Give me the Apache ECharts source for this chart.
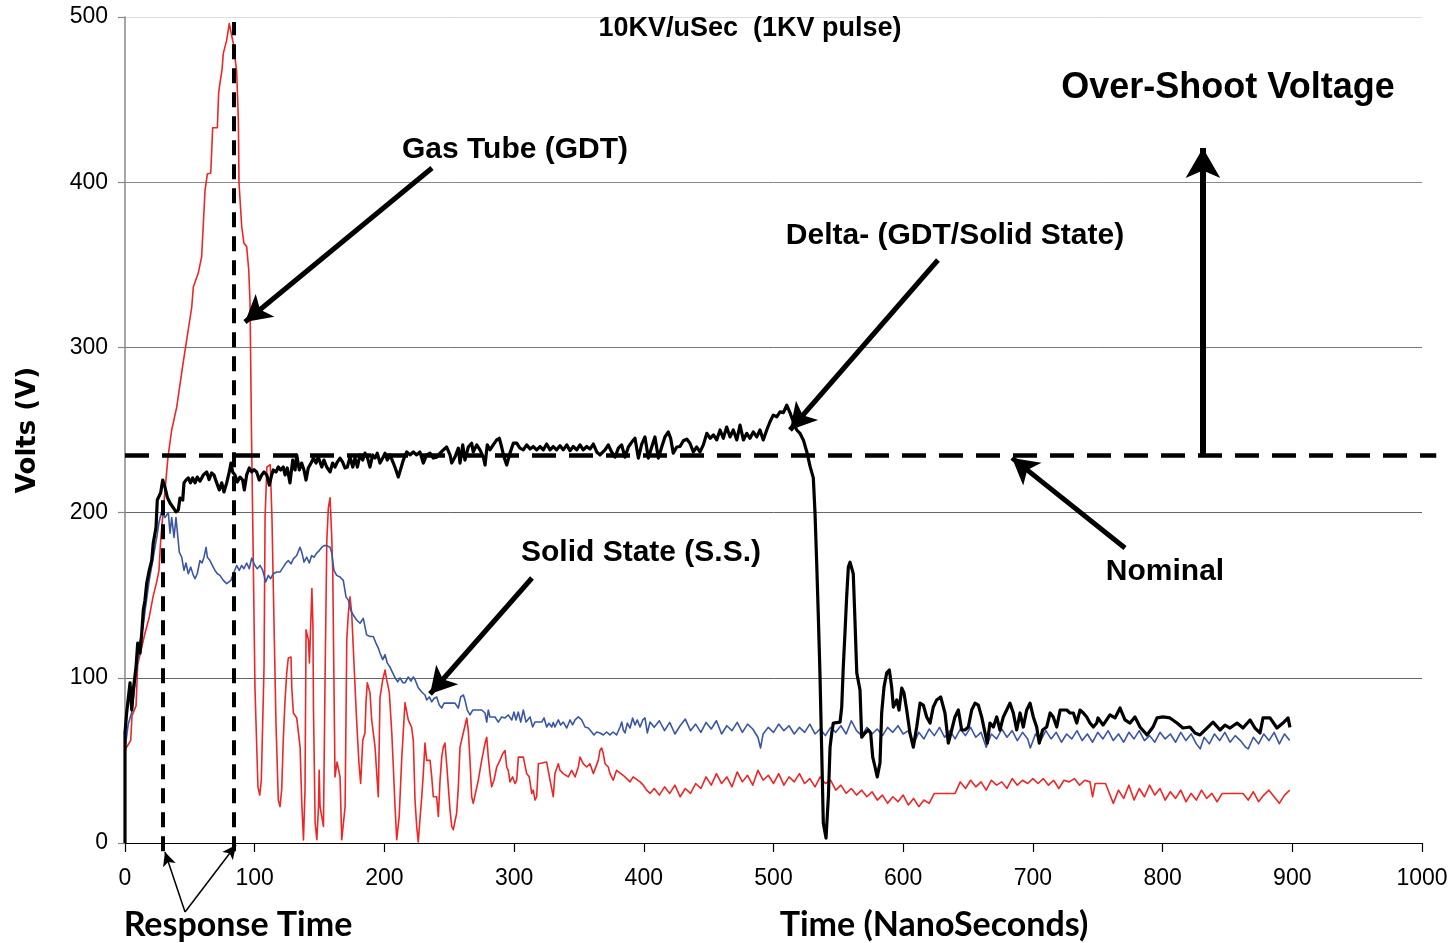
<!DOCTYPE html>
<html>
<head>
<meta charset="utf-8">
<script src="https://cdn.jsdelivr.net/npm/echarts@6/dist/echarts.min.js"></script>
<style>
  html, body { margin: 0; padding: 0; background: #fff; }
  #chart { width: 1451px; height: 943px; }
</style>
</head>
<body>
<div id="chart"></div>
<script>
// axis ticks
var timeTicks = [0, 100, 200, 300, 400, 500, 600, 700, 800, 900, 1000];
var voltTicks = [0, 100, 200, 300, 400, 500];

// Gas Tube (GDT) trace, [ns, V]
var gdtRise = [[0,55],[0.8,57.5],[4.4,62],[5.4,77],[8.5,83],[9.8,108],[15.4,127],[18.5,136],[21.6,149],[24.7,159],[26.2,165],[27.5,183],[29.3,200],[33.2,234],[36,250],[39.9,264],[44.7,290],[51.4,324],[52.7,336.6],[56.5,345],[59.1,355],[61.7,395],[63.5,405],[66.1,405.6],[67.1,423.7],[67.6,433],[71.2,433],[72.2,454],[73.2,460],[74.8,468],[75.8,478],[78.4,486],[80.4,496],[81.7,496],[83.5,484],[86.1,467],[87.4,437.6],[87.9,399.5],[90,373],[91.7,363],[93.8,361],[95.4,347],[96.4,327],[97.5,250],[98.8,177],[100.2,94]];
var gdtRing = [[102.5,34],[103.9,29],[105.1,38],[107.2,106.5],[108,197],[109.4,227.6],[112,229],[113.3,197],[116.4,72.6],[118.2,26],[119.5,22],[120.8,32],[122.1,64],[123.4,86.6],[124.7,103],[125.9,112],[128,112.6],[128.6,94],[129.8,78.7],[132.4,75.7],[135,58],[136.3,24],[137.6,1.8],[138.8,32],[139.6,129],[141.4,123],[142.2,109],[144.1,154],[144.9,131],[145.3,82],[146.6,12],[147.9,2],[149.2,22],[149.7,44],[150.4,22],[151.7,16],[153,10],[154.3,103],[155.6,183],[156.8,203],[158.1,209],[159.4,185],[160.2,163],[161.9,40],[163.5,49],[165.8,40],[167.1,2],[168.4,2],[169.7,22],[171,123],[172.2,139],[173.5,149],[174.8,139],[178.1,82],[179.1,66.6],[180.4,48],[181.7,36],[183.3,62],[185,66.6],[185.8,85],[186.8,97],[188.9,91],[190.2,74.5],[192.8,58],[194.1,42],[195.3,28],[196.6,88],[198.7,98.7],[200.5,104.7],[201.8,98.7],[203.8,91],[205.7,66.6],[207,44],[208.2,22],[209.5,2],[211.4,16],[213.3,50],[214.5,66.6],[215.9,85],[218.4,74.5],[221,70],[222.3,62],[223.6,26],[224.9,10],[226.1,0.6],[227.4,14],[228.8,28],[230,42],[231.3,60.5],[232.6,50],[235.2,50],[236.5,40],[237.7,28],[240.3,28],[241.6,16],[242.9,38],[244.2,52],[245.4,58],[246.7,60.5],[248,48],[249.3,34],[250.6,20],[251.9,10],[253.1,8],[255.7,18],[257,34],[258.3,58],[260.8,66.6],[263.5,75.7],[264.7,68],[266,50],[267.3,28],[268.5,24],[272.4,38],[275,50],[277.6,60.5],[278.9,64],[280.1,52],[281.4,42],[282.7,34],[284.5,38],[286.6,46],[289.1,50],[291.2,54],[293,56],[294.3,46],[295.5,44],[296.8,37],[298.9,40],[300.7,36],[302,38],[303.3,52],[307.1,52],[309.7,42],[311.7,40],[313.6,30],[314.8,32],[316.1,26],[317.4,28],[318.7,48],[325.1,49],[327.7,38],[330.2,28],[331.5,42],[334.1,48],[335.4,44],[337.9,42],[341.8,40],[344.4,44],[347,40],[349.5,46],[350.8,52],[353.3,48],[356,46],[358.5,48],[361.1,42],[364.9,50],[366.2,56],[367.5,57.5],[368.8,54],[370.1,48],[372.6,46],[373.9,42],[376.4,38],[379,44],[384.1,41],[389.4,37],[391.8,40],[397.1,37],[399.6,35],[402.2,32],[404.8,30]];
var gdtTail = [[408,33],[412,29],[416,34],[420,30],[424,35],[428,28],[432,33],[436,30],[440,36],[444,33],[448,40],[452,35],[456,42],[460,36],[464,40],[468,34],[472,43],[476,37],[480,41],[484,35],[488,44],[492,38],[496,41],[500,36],[504,42],[508,35],[512,40],[516,37],[520,42],[524,36],[528,39],[532,34],[536,40],[540,36],[544,38],[548,32],[552,35],[556,30],[560,33],[564,29],[568,32],[572,28],[576,31],[580,26],[584,29],[588,24],[592,28],[596,25],[600,29],[604,23],[608,27],[612,22],[616,26],[620,24],[624,30],[628,30],[632,30],[636,30],[640,30],[644,37],[648,33],[652,38],[656,34],[660,37],[664,32],[668,38],[672,35],[676,37],[680,33],[684,39],[688,35],[692,38],[696,36],[700,39],[704,36],[708,39],[712,35],[716,38],[720,33],[724,38],[728,37],[732,39],[736,35],[740,38],[744,37],[746,28],[748,36],[752,36],[756,36],[760,28],[762,24],[766,32],[770,27],[774,35],[778,26],[782,33],[786,28],[790,35],[794,29],[798,33],[802,26],[806,31],[810,27],[814,32],[818,25],[822,30],[826,26],[830,32],[834,27],[838,30],[842,25],[846,30],[850,30],[854,30],[858,30],[862,30],[866,26],[870,31],[874,25],[878,29],[882,32],[886,28],[890,24],[894,29],[898,32]];

// Solid State (S.S.) trace
var ssRise = [[0,57],[2.5,72],[5.2,79],[8,98],[11.6,122],[14,131],[15.4,140],[18.5,158],[21.6,172],[24.7,186],[26.2,194],[28.2,200.6],[30.8,197],[33.4,200],[34.7,187.6],[36,197],[37.8,185],[39.3,197],[40.5,196],[41.9,176],[43.7,173],[45.5,165],[47,169.5],[48.8,163],[50.7,167],[52.7,162],[54,160],[55.7,163],[57.8,171],[59.4,169.5],[60.9,173],[62.5,179],[63.5,173],[65.5,171],[67.3,168],[69.4,165],[71.2,163],[73.2,162],[75.8,159],[78.4,157],[81.7,159],[83.5,163],[86.1,168],[88.1,165],[90,168],[91.7,166],[93.8,169.5],[95.8,166],[97.7,172.5],[100.2,168],[102,166],[104.1,168],[106.2,165],[108.5,158],[110.5,162],[112.3,160],[114.3,163],[117,164],[119.5,164],[122,167],[124.1,169.5],[125.9,171],[128,169],[129.8,172],[132.4,174],[134.9,179],[136.5,175.5],[138,170],[140.1,173],[142.1,169.5],[143.9,174],[145.7,173],[147.8,175.5],[149.8,177],[151.7,179],[153.4,180],[155.5,180],[158.1,179],[159.4,175.5]];
var ssDecay = [[161.1,165],[163.2,162],[165.8,161],[168.3,159],[170.4,149],[172.2,147],[174,141],[176,138],[178.6,135],[181.2,133],[183.7,136],[185,131],[186.3,126],[188.9,125],[191.4,125],[193.5,121],[195.3,118],[196.6,115],[198.7,111],[200.5,114],[202.2,109],[204.3,106.5],[206.4,103],[208.2,100],[210.3,97.5],[212,100],[214.3,97],[215.9,97],[218.4,100.5],[220.5,98],[222.3,100.5],[223.6,99],[226.1,94],[228.8,91.4],[231.3,89.6],[232.6,86.6],[234.6,88.4],[236.5,85.4],[238.2,87.5],[240.3,88.4],[242.3,83.5],[244.2,81.7],[246,84.7],[248,84.7],[250.6,84.7],[254.4,84.7],[257,81.7],[258.8,88.4],[260.9,89.6],[262.1,86.6],[263.9,80.5],[266,77.5],[268.1,80.5],[271.2,80.5],[275,80.5],[277.6,78.7],[278.9,73.2],[280.1,80.5],[281.4,76.3],[282.9,75.7],[285.3,76.3],[287.8,73.2],[290.4,76.3],[293,75.7],[295.5,77.5],[298.2,74.5],[299.9,79.3],[301.5,74.5],[303.2,79.3],[305.1,73.2],[307.1,80.5],[309.2,73.2],[312.3,76.3],[314.3,70.2],[316.1,73.2],[318.7,73.2],[321.3,73.2],[323.1,75.7],[325.1,70.2],[326.9,72.5],[329,70.2],[330.2,73],[331.5,70.2],[334.1,74.5],[335.9,71.4],[337.9,73.2],[340.6,69.6],[343.1,74.5],[345.1,71.5],[347,74.5],[349.5,76.3],[352.1,74.5],[354.7,70.2],[357.2,69.6],[359.8,67.2],[361.6,65.4],[363.7,67.2],[366.2,66.6],[368.8,65.4],[371.4,67.2],[373.9,65.4],[376.4,67.2],[379,65.4],[381.7,70.2],[383,73.2],[384.2,68.4],[385.5,66.6],[387.3,72.6],[389.4,69.6],[391.4,75.7],[393.2,71.4],[395,74.5],[397.1,70.2],[399.2,74.5],[400.9,75.7],[402.7,66.6],[404.8,73.2]];
var ssTail = [[408,70],[412,74],[416,68],[420,73],[424,66],[428,71],[432,75],[436,68],[440,72],[444,67],[448,73],[452,69],[456,74],[460,66],[464,71],[468,68],[472,73],[476,67],[480,72],[484,69],[488,64],[490,57.5],[492,66],[496,70],[500,67],[504,72],[508,68],[512,71],[516,66],[520,70],[524,67],[528,72],[532,66],[536,69],[540,65],[544,70],[548,67],[552,71],[556,66],[560,74],[564,68],[568,65],[572,70],[576,66],[580,69],[584,65],[588,70],[592,67],[596,71],[600,66],[604,68],[608,60],[612,67],[616,63],[620,69],[624,65],[628,70],[632,64],[636,68],[640,63],[644,69],[648,65],[652,70],[656,64],[660,67],[664,58],[668,66],[672,63],[676,69],[680,64],[684,68],[688,62],[692,67],[696,63],[698,57.5],[702,66],[706,62],[710,68],[714,63],[718,67],[722,61],[726,66],[730,63],[734,68],[738,62],[742,66],[746,61],[750,67],[754,63],[758,68],[762,62],[766,66],[770,61],[774,67],[778,63],[782,68],[786,62],[790,65],[794,61],[798,67],[802,63],[806,66],[810,61],[814,67],[818,62],[822,66],[826,60],[829,57],[832,64],[836,60],[840,66],[844,62],[848,67],[852,61],[856,65],[860,62],[864,58],[866,57],[870,64],[874,60],[878,66],[882,62],[886,67],[890,60],[894,66],[898,62]];

// Delta (GDT/Solid State) trace
var deltaRise = [[0,0],[0,66.6],[1.3,79],[3.9,97],[5.2,80.5],[6.4,92.6],[8.5,106.5],[9.8,121],[11.6,115],[12.9,127],[14.1,141],[15.4,147],[16.7,157],[18.7,165],[20.6,171],[21.8,181.6],[23.9,191],[24.9,207.6],[26.2,207],[27.5,212],[29.1,219.7],[30.8,215.5],[32.6,209.4],[34.7,205.8],[36.8,203.4],[39.3,200.4],[41.1,201.6],[42.4,208.8],[44.5,207.6],[45.5,218],[47,219.7],[48.8,221],[50.5,218],[52.2,221],[54,218],[55.7,221.5],[57.8,219],[60.4,222.8],[63,224.6],[64.8,220],[66.8,224],[68.6,222.8],[70.7,218],[72.7,213.7],[74.6,218],[76.3,212.5],[78.4,218],[80.4,224.6],[81.7,230],[83,224.6],[84.8,222.8],[86.6,218.5],[88.7,221.5],[90.7,219.7],[92,213.7],[93.8,222.8],[95.8,227],[97.7,224.6],[99.5,226],[101.5,224.6],[103.5,219.7],[105.4,222.8],[107.2,224.6],[109.3,222.8],[111.3,216.7],[113.1,222.8],[114.3,225.8],[116.4,224.6],[118.2,227.6],[120,225.8],[122,227.6],[123.4,222.8],[125.1,227],[127.2,218],[129.3,231.8],[131.1,225.8],[132.4,234.9],[134.4,225.8],[136.2,230],[138,225.8],[139.6,219.7],[141.3,227],[143.9,230.6],[145.2,233],[147.3,230],[149,233.6],[151.7,227.6],[153.4,231.8],[155.5,227.6],[158.1,224.6],[160.1,230],[161.9,227.6],[163.7,230.6],[165.8,233],[167.8,230.6],[169.6,227],[171.4,227.6],[173.5,233.6],[175.6,227.6],[177.3,233],[179.2,227.6],[181.2,234.9],[183.3,231.8],[185,236],[186.8,233.6],[188.9,227.6],[191,234.9],[192.8,233],[194.5,236],[196.6,230],[198.7,233],[200.5,236],[202.2,231.8],[204.3,234.9],[206.9,230],[208.9,225.8],[210.7,221.5]];
var deltaPlateau = [[214.6,231.8],[217.2,236.7],[219.7,234.9],[222.3,236.7],[224.9,234.9],[227.4,236.7],[230,230],[232.6,234.9],[235.2,236],[237.7,233],[240.3,233.6],[242.9,236],[245.4,237.9],[248,239.7],[250.6,234.9],[251.9,230],[254.4,233.6],[257,239],[258.3,230],[260.4,241],[262.1,231.8],[264.7,239.7],[267.3,242],[268.5,236.7],[271.2,241],[273.7,238],[276.3,233.6],[277.6,228.8],[279.3,241],[281.4,238],[283.9,241],[286.6,244],[288.6,245],[290.4,239.7],[292.2,233.6],[294.3,228.8],[296.8,236],[299.4,242],[302,242],[304.5,239],[307.1,238],[309.7,241],[312.3,238.5],[314.8,240],[317.4,238],[320,240],[322.5,238],[325.1,241.5],[327.7,238],[330.2,240],[332.8,238],[335.4,240.5],[337.9,238],[340.6,241],[343.1,237.5],[345.6,240],[348.3,238],[350.8,241],[353.3,238],[356,240],[358.5,238.5],[361.1,241.5],[363.7,236.7],[366.2,234.9],[370.1,238],[372.6,241],[375.2,236.7],[377.8,233.6],[380.4,239],[382.9,241],[385.5,233.6],[388.1,239.7],[390.7,242.7],[393.2,245],[395.8,233],[398.4,241.5],[400.9,245.8],[403.5,233],[406.1,239.7],[408.6,245.8],[411.2,233],[413.8,239.7],[416.3,245.8],[418.9,248.8],[420.7,245],[422.7,236],[425.4,239.7],[427.9,240],[430.5,243.5],[433.1,244.5],[435.6,242],[438.2,236.7],[440.8,239.7],[443.3,236.7],[445.9,241],[448.6,248],[451.2,245],[453.7,247],[456.2,244],[458.8,250],[461.3,245],[463.9,251.8],[466.5,245.8],[469,250],[471.7,244],[474.2,253],[476.8,244],[479.4,248],[481.9,245],[484.4,248.8],[487.1,245.8],[489.6,250],[492.1,244],[494.8,250],[497.3,255],[499.8,259],[502.5,258],[505,261],[507.6,260.5],[510.2,265],[512.7,260.5],[515.3,255],[517.9,250],[520.4,248],[523,244],[525.6,237],[528.2,228],[530.7,221]];
var deltaCollapse = [[532,199.8],[533.3,169.5],[534.5,139],[535.8,103],[537.1,58],[538.4,12],[540.5,3],[542.3,28],[543.6,58],[544.9,66.6],[546.1,72.6],[551.3,73.2],[552.6,82.3],[553.8,106.5],[555.1,127],[556.4,149],[557.7,167],[559,170],[560.3,171],[561.5,163],[562.8,135],[564.2,103],[566.7,92.6],[568,64],[570.5,66.6],[573.1,68.4],[574.9,66.6],[576.5,52],[578.3,46],[580,40],[582.1,48.4],[583.4,78.7],[585.2,94.4],[587.3,103],[589.3,104.7],[591.1,94.4],[592.4,82.3],[595,86.6],[596.8,80.5],[598.9,93.8],[600.6,90.8],[602.7,80.5],[605.2,66.6],[607.8,58],[610.4,70.2],[613,84.7],[615.5,83.5],[618.1,76.3],[620.7,72.6],[623.2,82.3],[625.8,86.6],[628.9,88.4],[632.2,78.7],[634.8,60.5],[637.4,68.4],[639.9,76.3],[642.5,80.5],[645.1,68.4],[647.6,68.4],[650.2,70.2]];
var deltaTail = [[652.8,80.5],[655.4,84.7],[657.9,83.5],[660.5,76.3],[663.1,66.6],[664.8,60.5],[666.9,72.6],[669.5,70.2],[672.1,76.3],[674.6,68.4],[677.2,76.3],[679.8,80.5],[682.3,84.7],[684.9,78.7],[687.5,68.4],[690.1,78.7],[692.6,70.2],[695.2,80.5],[697.8,84.7],[700.3,76.3],[702.9,70.2],[704.9,60.5],[707.5,68.4],[710.6,70.2],[713.3,78.7],[715.7,76.3],[718.4,70.2],[721,80.5],[723.5,80.5],[726.1,80.5],[728.6,78.7],[731.2,78.7],[733.8,72.6],[736.3,80.5],[738.9,78.7],[741.5,76.3],[744,72.6],[746.6,70.2],[749.2,72.6],[750.2,75.7],[754.1,71.4],[759.4,77.5],[763.3,75.7],[767.2,81.7],[771,74.5],[774.9,72.6],[778.7,76.3],[782.6,70.2],[788,65.4],[792.6,70.2],[795.7,75.7],[800.3,76.3],[805.7,75.7],[811.1,72.6],[815.7,69.6],[821.1,70.2],[825,66.6],[828.8,65.4],[834.2,69.6],[838.9,73.2],[844.3,68.4],[848.1,71.4],[852,69.6],[857.4,72.6],[862,69.6],[867.4,74.5],[871.2,69.6],[875.1,66.6],[877.4,75.7],[882.8,75.7],[888.2,69.6],[892.8,72.6],[896.7,75.7],[898.2,70]];

// annotation lines in data units: [[x0,y0],[x1,y1]]
var nominalVolts = 235;
var nominalLine = [[[0, nominalVolts], [1011, nominalVolts]]];
var responseMarks = [[[29.3, -5], [29.3, 211]], [[84, -5], [84, 497]]];
var bigArrows = [
  [[236.7, 408.6], [92.5, 315.4]],   // Gas Tube
  [[626.8, 352.9], [512.7, 250]],    // Delta
  [[313.8, 160.4], [235.2, 90.2]],   // Solid State
  [[771, 178.6], [683.9, 233.1]]     // Nominal
];
var overshootArrow = [[[831.1, nominalVolts], [831.1, 420.7]]];
var responseArrows = [[[46.3, -41.8], [30.8, -5.4]], [[46.3, -41.8], [85.6, -1.2]]];

var chartDom = document.getElementById('chart');
var myChart = echarts.init(chartDom);
var option;

function traceSeries(name, data, color, width, z) {
  return {
    name: name,
    type: 'line',
    data: data,
    showSymbol: false,
    symbol: 'none',
    z: z,
    lineStyle: { color: color, width: width, join: 'round' },
    silent: true
  };
}

var labelFont = '"Liberation Sans", Arial, sans-serif';
var noteFont = 'bold 30px "Liberation Sans", Arial, sans-serif';
var axisNameFont = 'bold 34px Lato, "Open Sans", sans-serif';

function note(text, x, y, font) {
  return { type: 'text', x: x, y: y, z: 20, style: { text: text, font: font, fill: '#000', align: 'center', verticalAlign: 'middle' } };
}

var traces = [
  traceSeries('Gas Tube (GDT)', gdtRise.concat(gdtRing, gdtTail), '#ee2626', 1.6, 2),
  traceSeries('Solid State (S.S.)', ssRise.concat(ssDecay, ssTail), '#3a57a6', 1.6, 3),
  traceSeries('Delta- (GDT/Solid State)', deltaRise.concat(deltaPlateau, deltaCollapse, deltaTail), '#000', 3.2, 4)
];

option = {
  animation: false,
  backgroundColor: '#fff',
  grid: { left: 125, right: 29, top: 17, bottom: 100 },
  xAxis: {
    type: 'value',
    min: timeTicks[0],
    max: timeTicks[timeTicks.length - 1],
    interval: 100,
    axisLine: { show: true, onZero: false, lineStyle: { color: '#000', width: 1.2 } },
    axisTick: { show: true, length: 9, lineStyle: { color: '#000', width: 1.2 } },
    axisLabel: {
      margin: 24,
      fontSize: 23,
      fontFamily: labelFont,
      color: '#000',
      formatter: function (v) { return String(v); }
    },
    splitLine: { show: false }
  },
  yAxis: {
    type: 'value',
    min: voltTicks[0],
    max: voltTicks[voltTicks.length - 1],
    interval: 100,
    name: 'Volts (V)',
    nameLocation: 'middle',
    nameRotate: 90,
    nameGap: 84,
    nameTextStyle: {
      fontSize: 26,
      fontWeight: 'bold',
      fontFamily: '"DejaVu Sans", Verdana, sans-serif',
      color: '#000'
    },
    axisLine: { show: true, lineStyle: { color: '#888', width: 1.5 } },
    axisTick: { show: true, length: 7, lineStyle: { color: '#888', width: 1.2 } },
    axisLabel: {
      margin: 17,
      fontSize: 23,
      fontFamily: labelFont,
      color: '#000'
    },
    splitLine: {
      show: true,
      lineStyle: { color: ['#666', '#666', '#666', '#777', '#888', '#ddd'], width: 1 }
    }
  },
  graphic: [
    note('10KV/uSec  (1KV pulse)', 750, 29, 'bold 27px "Liberation Sans", Arial, sans-serif'),
    note('Over-Shoot Voltage', 1228, 88, 'bold 36px "Liberation Sans", Arial, sans-serif'),
    note('Gas Tube (GDT)', 515, 150, noteFont),
    note('Delta- (GDT/Solid State)', 955, 236, noteFont),
    note('Solid State (S.S.)', 641, 553, noteFont),
    note('Nominal', 1165, 572, noteFont),
    note('Response Time', 238, 925, axisNameFont),
    note('Time (NanoSeconds)', 934, 925, axisNameFont)
  ],
  series: traces
};

myChart.setOption(option);

// annotation lines: data coords -> pixels through the chart's own scales,
// so lines that reach outside the axis range (below 0, past 1000) still draw
function toPx(p) {
  return myChart.convertToPixel({ gridIndex: 0 }, p);
}

function annotation(name, lines, width, dash, head, headSize) {
  return {
    name: name,
    type: 'line',
    data: [],
    z: 10,
    silent: true,
    markLine: {
      silent: true,
      animation: false,
      symbol: head ? ['none', 'arrow'] : ['none', 'none'],
      symbolSize: headSize || 1,
      label: { show: false },
      emphasis: { disabled: true },
      lineStyle: { color: '#000', width: width, type: dash, opacity: 1, cap: 'butt' },
      data: lines.map(function (l) {
        var a = toPx(l[0]), b = toPx(l[1]);
        return [{ x: a[0], y: a[1] }, { x: b[0], y: b[1] }];
      })
    }
  };
}

myChart.setOption({
  series: traces.concat([
    annotation('nominal', nominalLine, 4.5, [24, 13], false),
    annotation('response', responseMarks, 4, [15, 9], false),
    annotation('arrows', bigArrows, 5, 'solid', true, [22, 26]),
    annotation('overshoot', overshootArrow, 6, 'solid', true, [26, 30]),
    annotation('responseArrows', responseArrows, 1.5, 'solid', true, [10, 14])
  ])
});
</script>
</body>
</html>
